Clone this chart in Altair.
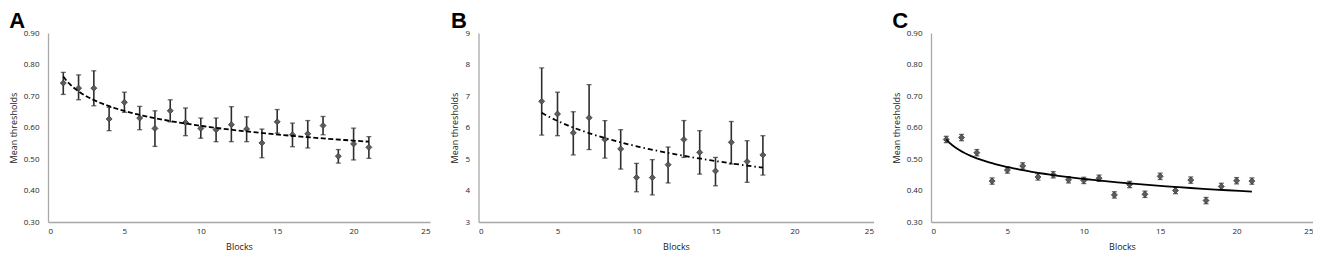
import altair as alt
import pandas as pd

# ---------------- data ----------------
blocks_a = [1, 2, 3, 4, 5, 6, 7, 8, 9, 10, 11, 12, 13, 14, 15, 16, 17, 18, 19, 20, 21]
mean_a = [0.741, 0.725, 0.725, 0.627, 0.680, 0.630, 0.597, 0.653, 0.616, 0.597, 0.593,
          0.609, 0.595, 0.551, 0.618, 0.577, 0.580, 0.606, 0.509, 0.548, 0.537]
upper_a = [0.775, 0.767, 0.780, 0.664, 0.712, 0.667, 0.653, 0.688, 0.662, 0.630, 0.630,
           0.666, 0.634, 0.595, 0.657, 0.614, 0.622, 0.635, 0.530, 0.598, 0.571]
lower_a = [0.705, 0.688, 0.669, 0.590, 0.648, 0.593, 0.540, 0.618, 0.574, 0.566, 0.555,
           0.555, 0.555, 0.504, 0.582, 0.539, 0.535, 0.577, 0.487, 0.497, 0.502]

blocks_b = [4, 5, 6, 7, 8, 9, 10, 11, 12, 13, 14, 15, 16, 17, 18]
mean_b = [6.83, 6.43, 5.83, 6.31, 5.62, 5.32, 4.41, 4.41, 4.82, 5.62, 5.21, 4.62, 5.53, 4.92, 5.13]
upper_b = [7.89, 7.12, 6.50, 7.36, 6.22, 5.93, 4.86, 4.98, 5.38, 6.22, 5.90, 5.05, 6.19, 5.58, 5.74]
lower_b = [5.76, 5.74, 5.13, 5.30, 5.03, 4.68, 3.96, 3.86, 4.24, 5.05, 4.52, 4.15, 4.84, 4.26, 4.49]

blocks_c = [1, 2, 3, 4, 5, 6, 7, 8, 9, 10, 11, 12, 13, 14, 15, 16, 17, 18, 19, 20, 21]
mean_c = [0.562, 0.568, 0.520, 0.430, 0.465, 0.478, 0.443, 0.450, 0.434, 0.432, 0.439,
          0.386, 0.419, 0.388, 0.445, 0.400, 0.433, 0.368, 0.413, 0.431, 0.430]
upper_c = [0.572, 0.578, 0.530, 0.440, 0.475, 0.488, 0.453, 0.460, 0.444, 0.442, 0.449,
           0.396, 0.429, 0.398, 0.455, 0.410, 0.443, 0.378, 0.423, 0.441, 0.440]
lower_c = [0.552, 0.558, 0.510, 0.420, 0.455, 0.468, 0.433, 0.440, 0.424, 0.422, 0.429,
           0.376, 0.409, 0.378, 0.435, 0.390, 0.423, 0.358, 0.403, 0.421, 0.420]

x_ticks = [0, 5, 10, 15, 20, 25]
y_ticks_ac = [0.30, 0.40, 0.50, 0.60, 0.70, 0.80, 0.90]
y_ticks_b = [3, 4, 5, 6, 7, 8, 9]

BAR = "#2e2e2e"
MARK = "#5c5c5c"


def panel(letter, blocks, mean, upper, lower, ydomain, yticks, yfmt, width, dash, extent):
    df = pd.DataFrame({"block": blocks, "mean": mean, "upper": upper, "lower": lower})
    base = alt.Chart(df)

    xenc = alt.X("block:Q", scale=alt.Scale(domain=[0, 25], nice=False, zero=False),
                 axis=alt.Axis(values=x_ticks, title="Blocks"))

    def yenc(field):
        return alt.Y(f"{field}:Q",
                     scale=alt.Scale(domain=ydomain, nice=False, zero=False),
                     axis=alt.Axis(values=yticks, format=yfmt, title="Mean thresholds"))

    rules = base.mark_rule(color=BAR, strokeWidth=1.6).encode(
        x=xenc, y=yenc("lower"), y2="upper:Q")
    cap_top = base.mark_tick(color=BAR, thickness=1.3, size=5, orient="horizontal").encode(
        x=xenc, y=yenc("upper"))
    cap_bot = base.mark_tick(color=BAR, thickness=1.3, size=5, orient="horizontal").encode(
        x=xenc, y=yenc("lower"))
    pts = base.mark_point(shape="diamond", filled=True, size=36, color=MARK,
                          stroke="#3c3c3c", strokeWidth=0.8, opacity=1).encode(
        x=xenc, y=yenc("mean"))
    line_kw = dict(color="black", strokeWidth=1.8)
    if dash is not None:
        line_kw["strokeDash"] = dash
    trend = base.transform_regression("block", "mean", method="log", extent=extent).mark_line(
        **line_kw).encode(x=xenc, y=yenc("mean"))

    return alt.layer(rules, cap_top, cap_bot, pts, trend).properties(
        width=width, height=189,
        title=alt.TitleParams(letter, anchor="start", frame="bounds", fontSize=22,
                              fontWeight="bold", font="Liberation Sans", color="black",
                              offset=-4),
    )


A = panel("A", blocks_a, mean_a, upper_a, lower_a, [0.30, 0.90], y_ticks_ac, ".2f", 382,
          [5, 2.5], [1, 21])
B = panel("B", blocks_b, mean_b, upper_b, lower_b, [3, 9], y_ticks_b, "d", 395,
          [5, 3, 1.5, 3], [4, 18])
C = panel("C", blocks_c, mean_c, upper_c, lower_c, [0.30, 0.90], y_ticks_ac, ".2f", 382,
          None, [1, 21])

chart = alt.hconcat(A, alt.hconcat(B, C, spacing=18.5), spacing=20.5).properties(
    padding={"left": 1, "top": 2, "right": 0, "bottom": 0}
).configure_view(stroke=None).configure_axis(
    grid=False, ticks=False, domainColor="#a8a8a8", domainWidth=1.3,
    labelFont="Open Sans", labelFontSize=8, labelColor="#1e1e1e",
    titleFont="Open Sans", titleFontSize=9, titleFontWeight="normal", titleColor="#222222",
).configure_axisY(labelPadding=9, titlePadding=5).configure_axisX(
    labelPadding=5, titlePadding=7)

chart.save("out.html", embed_options={"renderer": "svg", "actions": False})
